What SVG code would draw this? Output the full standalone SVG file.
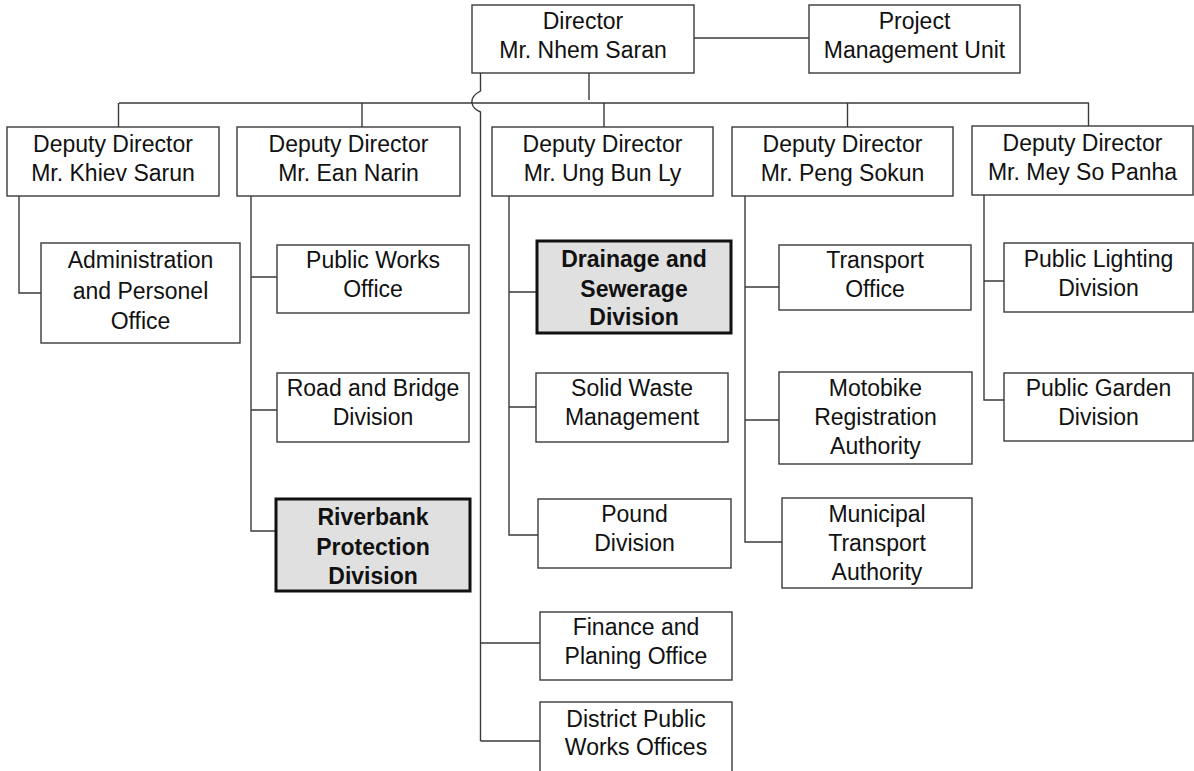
<svg xmlns="http://www.w3.org/2000/svg" width="1194" height="771" viewBox="0 0 1194 771">
  <style>
    .box { fill: #ffffff; stroke: #3a3a3a; stroke-width: 1.4; }
    .hl { fill: #e0e0e0; stroke: #111111; stroke-width: 3; }
    .t { font-family: "Liberation Sans", Arial, sans-serif; font-size: 23px; fill: #111111; text-anchor: middle; }
    .b { font-weight: bold; }
    .ln { fill: none; stroke: #3a3a3a; stroke-width: 1.4; }
  </style>
  <rect width="1194" height="771" fill="#ffffff"/>

  <!-- connectors -->
  <g id="connectors" class="ln">
    <!-- director to project management unit -->
    <path d="M694 38 H809"/>
    <!-- director down to the deputy bus -->
    <path d="M589 73 V100"/>
    <path d="M119 103 H1089"/>
    <path d="M118.5 103 V127 M362 103 V127 M604 103 V127 M847.5 103 V127 M1088.5 103 V126"/>
    <!-- director direct line with a hop over the bus -->
    <path d="M480.5 73 V91 Q471 96 472 103 Q473 109 480.5 112 V741"/>
    <path d="M480.5 643 H540 M480.5 741 H540"/>
    <!-- Khiev Sarun branch -->
    <path d="M19 196 V293 H41"/>
    <!-- Ean Narin branch -->
    <path d="M251 196 V531 H276 M251 277 H277 M251 410 H277"/>
    <!-- Ung Bun Ly branch -->
    <path d="M509 196 V535 H538 M509 292 H537 M509 407 H536"/>
    <!-- Peng Sokun branch -->
    <path d="M745 196 V542 H782 M745 287 H779 M745 420 H779"/>
    <!-- Mey So Panha branch -->
    <path d="M984 194 V400 H1004 M984 281 H1004"/>
  </g>

  <g id="director">
    <rect class="box" x="472" y="5" width="222" height="68"/>
    <text class="t" x="583" y="28.5">Director</text>
    <text class="t" x="583" y="58">Mr. Nhem Saran</text>
  </g>
  <g id="pmu">
    <rect class="box" x="809" y="5" width="211" height="68"/>
    <text class="t" x="914.5" y="28.5">Project</text>
    <text class="t" x="914.5" y="58">Management Unit</text>
  </g>

  <g id="deputy-khiev">
    <rect class="box" x="7" y="127" width="212" height="69"/>
    <text class="t" x="113" y="151.5">Deputy Director</text>
    <text class="t" x="113" y="180.5">Mr. Khiev Sarun</text>
  </g>
  <g id="deputy-ean">
    <rect class="box" x="237" y="127" width="223" height="69"/>
    <text class="t" x="348.5" y="151.5">Deputy Director</text>
    <text class="t" x="348.5" y="180.5">Mr. Ean Narin</text>
  </g>
  <g id="deputy-ung">
    <rect class="box" x="492" y="127" width="221" height="69"/>
    <text class="t" x="602.5" y="151.5">Deputy Director</text>
    <text class="t" x="602.5" y="180.5">Mr. Ung Bun Ly</text>
  </g>
  <g id="deputy-peng">
    <rect class="box" x="732" y="127" width="221" height="69"/>
    <text class="t" x="842.5" y="151.5">Deputy Director</text>
    <text class="t" x="842.5" y="180.5">Mr. Peng Sokun</text>
  </g>
  <g id="deputy-mey">
    <rect class="box" x="972" y="126" width="221" height="69"/>
    <text class="t" x="1082.5" y="150.5">Deputy Director</text>
    <text class="t" x="1082.5" y="179.5">Mr. Mey So Panha</text>
  </g>

  <g id="administration">
    <rect class="box" x="41" y="243" width="199" height="100"/>
    <text class="t" x="140.5" y="268">Administration</text>
    <text class="t" x="140.5" y="298.5">and Personel</text>
    <text class="t" x="140.5" y="329">Office</text>
  </g>

  <g id="public-works">
    <rect class="box" x="277" y="245" width="192" height="68"/>
    <text class="t" x="373" y="267.5">Public Works</text>
    <text class="t" x="373" y="296.5">Office</text>
  </g>
  <g id="road-bridge">
    <rect class="box" x="277" y="373" width="192" height="69"/>
    <text class="t" x="373" y="396">Road and Bridge</text>
    <text class="t" x="373" y="425">Division</text>
  </g>
  <g id="riverbank">
    <rect class="hl" x="276" y="499" width="194" height="92"/>
    <text class="t b" x="373" y="525">Riverbank</text>
    <text class="t b" x="373" y="554.5">Protection</text>
    <text class="t b" x="373" y="583.5">Division</text>
  </g>

  <g id="drainage">
    <rect class="hl" x="537" y="241" width="194" height="92"/>
    <text class="t b" x="634" y="266.5">Drainage and</text>
    <text class="t b" x="634" y="296.5">Sewerage</text>
    <text class="t b" x="634" y="325">Division</text>
  </g>
  <g id="solid-waste">
    <rect class="box" x="536" y="373" width="192" height="69"/>
    <text class="t" x="632" y="396">Solid Waste</text>
    <text class="t" x="632" y="425">Management</text>
  </g>
  <g id="pound">
    <rect class="box" x="538" y="499" width="193" height="69"/>
    <text class="t" x="634.5" y="522">Pound</text>
    <text class="t" x="634.5" y="551">Division</text>
  </g>

  <g id="finance">
    <rect class="box" x="540" y="612" width="192" height="68"/>
    <text class="t" x="636" y="635">Finance and</text>
    <text class="t" x="636" y="664">Planing Office</text>
  </g>
  <g id="district">
    <rect class="box" x="540" y="702" width="192" height="90"/>
    <text class="t" x="636" y="726.5">District Public</text>
    <text class="t" x="636" y="755">Works Offices</text>
  </g>

  <g id="transport">
    <rect class="box" x="779" y="245" width="192" height="65"/>
    <text class="t" x="875" y="267.5">Transport</text>
    <text class="t" x="875" y="296.5">Office</text>
  </g>
  <g id="motobike">
    <rect class="box" x="779" y="372" width="193" height="92"/>
    <text class="t" x="875.5" y="396">Motobike</text>
    <text class="t" x="875.5" y="425">Registration</text>
    <text class="t" x="875.5" y="453.5">Authority</text>
  </g>
  <g id="municipal">
    <rect class="box" x="782" y="498" width="190" height="90"/>
    <text class="t" x="877" y="521.5">Municipal</text>
    <text class="t" x="877" y="551">Transport</text>
    <text class="t" x="877" y="579.5">Authority</text>
  </g>

  <g id="public-lighting">
    <rect class="box" x="1004" y="243" width="189" height="69"/>
    <text class="t" x="1098.5" y="266.5">Public Lighting</text>
    <text class="t" x="1098.5" y="295.5">Division</text>
  </g>
  <g id="public-garden">
    <rect class="box" x="1004" y="373" width="189" height="68"/>
    <text class="t" x="1098.5" y="396">Public Garden</text>
    <text class="t" x="1098.5" y="425">Division</text>
  </g>
</svg>
